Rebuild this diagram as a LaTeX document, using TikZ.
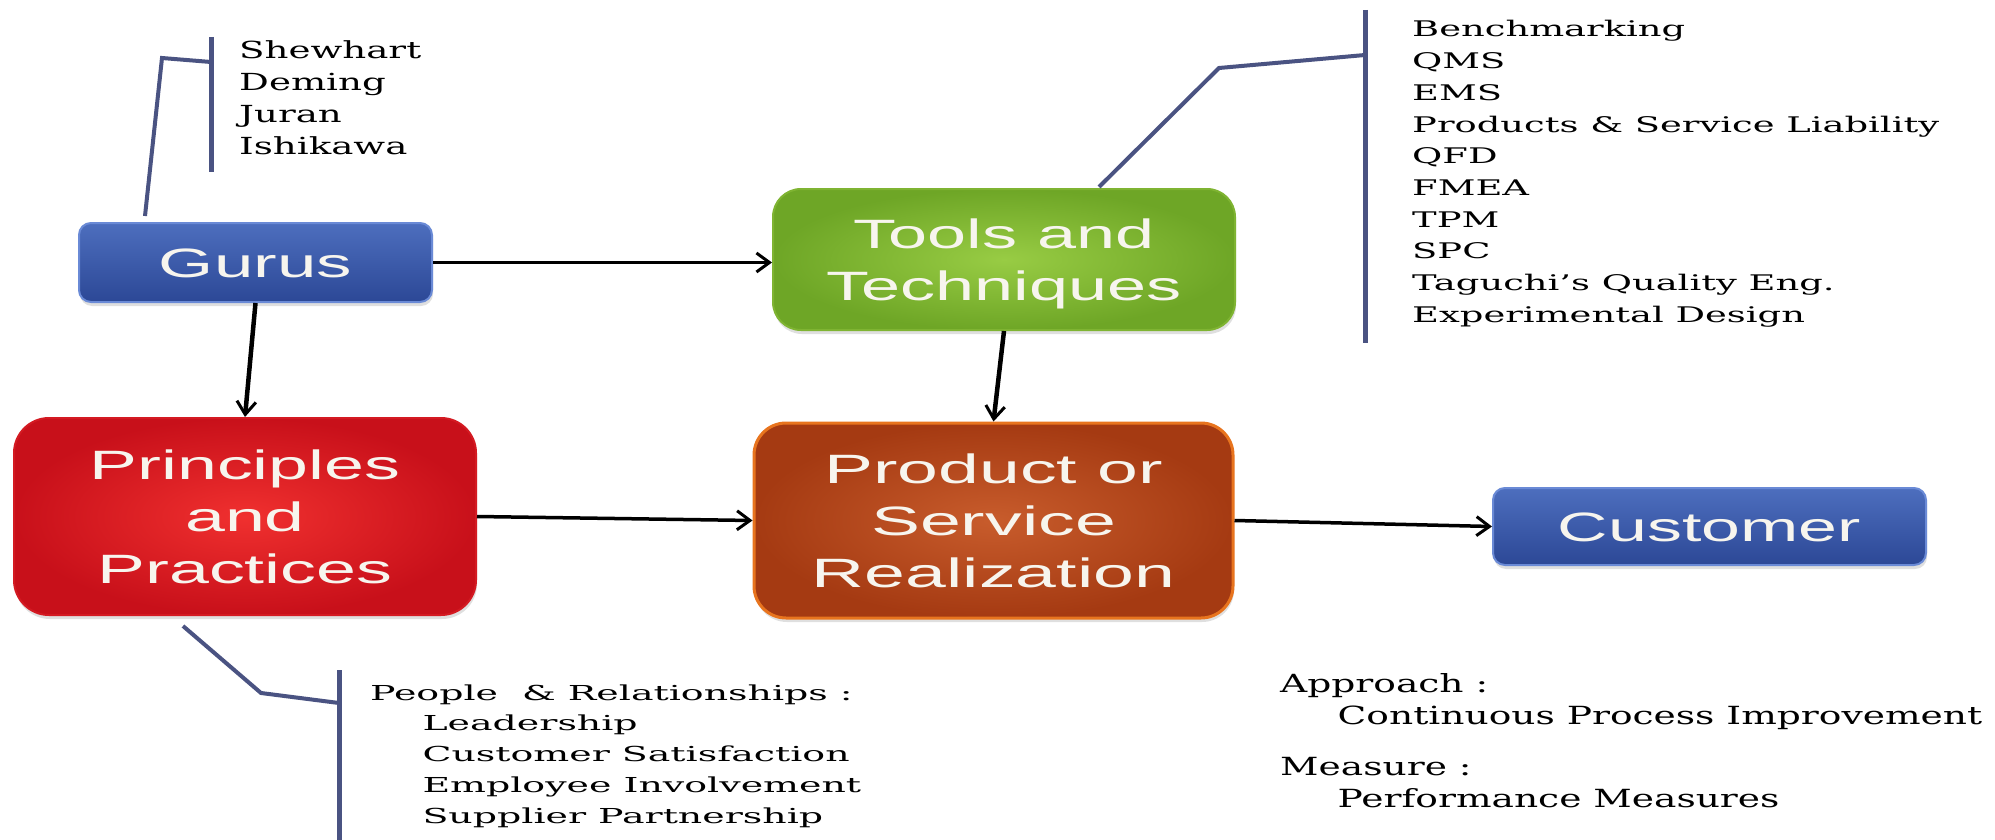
\documentclass[tikz,border=0pt]{standalone}
\usepackage{fontspec}
\setmainfont{DejaVu Serif}
\setsansfont{Liberation Sans}
\usetikzlibrary{arrows.meta,shadows,calc}
\definecolor{bluetop}{HTML}{4D6EBE}
\definecolor{bluebot}{HTML}{2C4896}
\definecolor{bluebd}{HTML}{6A8AD6}
\definecolor{grin}{HTML}{98CC44}
\definecolor{grout}{HTML}{6EA626}
\definecolor{grbd}{HTML}{7FB432}
\definecolor{redin}{HTML}{F0302F}
\definecolor{redout}{HTML}{C8101A}
\definecolor{redbd}{HTML}{D41A22}
\definecolor{orin}{HTML}{C85C2C}
\definecolor{orout}{HTML}{A53A12}
\definecolor{orbd}{HTML}{E8741E}
\definecolor{callc}{HTML}{4A5382}
\definecolor{boxtext}{HTML}{F7F5EE}
\newcommand{\boxlab}[2]{\raisebox{-5pt}[\height][\depth]{\resizebox{#1}{\height}{\begin{tabular}{@{}c@{}}#2\end{tabular}}}}
\newcommand{\calblk}[2]{\resizebox{#1}{\height}{\begin{tabular}[t]{@{}l@{}}#2\end{tabular}}}
\begin{document}
\begin{tikzpicture}[x=1pt,y=-1pt,
  mainbox/.style={inner sep=0pt, text=boxtext, font=\fontsize{41}{52}\selectfont\sffamily,
    drop shadow={shadow xshift=1pt, shadow yshift=-4pt, opacity=0.25}},
  bluebox/.style={mainbox, draw=bluebd, line width=2pt, top color=bluetop, bottom color=bluebot, rounded corners=12pt},
  greenbox/.style={mainbox, draw=grbd, line width=2pt, inner color=grin, outer color=grout, rounded corners=28pt},
  redbox/.style={mainbox, draw=redbd, line width=2pt, inner color=redin, outer color=redout, rounded corners=35pt},
  orangebox/.style={mainbox, draw=orbd, line width=3pt, inner color=orin, outer color=orout, rounded corners=32pt},
  arr/.style={-{Straight Barb[length=13pt,width=19pt,line width=3pt]}, line width=3.5pt, black},
  varr/.style={arr, line width=4.5pt},
  callbar/.style={line width=5pt, callc},
  callline/.style={line width=4pt, callc, line join=miter},
  calltext/.style={inner sep=0pt, anchor=base west, text=black}
]
\useasboundingbox (0,0) rectangle (1995,840);
\fill[white] (0,0) rectangle (1995,840);

% main boxes
\node[bluebox, minimum width=353pt, minimum height=79pt] (gurus) at (255.5,262.5) {\boxlab{193pt}{Gurus}};
\node[greenbox, minimum width=462pt, minimum height=141pt] (tools) at (1004,259.5) {\boxlab{355pt}{Tools and\\Techniques}};
\node[redbox, minimum width=462pt, minimum height=197pt] (princ) at (245,516.5) {\boxlab{311pt}{Principles\\and\\Practices}};
\node[orangebox, minimum width=479pt, minimum height=195pt] (prod) at (993.5,520.5) {\boxlab{363pt}{Product or\\Service\\Realization}};
\node[bluebox, minimum width=433pt, minimum height=77pt] (cust) at (1709.5,526.5) {\boxlab{303pt}{Customer}};

% arrows
\draw[arr] (gurus.east) -- (gurus.east -| tools.west);
\draw[varr] (gurus.south) -- (princ.north);
\draw[varr] (tools.south) -- (prod.north);
\draw[arr] (princ.east) -- (prod.west);
\draw[arr] (prod.east) -- (cust.west);

% callout: gurus
\coordinate (gbt) at (211,37);
\coordinate (gbb) at (211,172);
\coordinate (gk) at (162,58);
\coordinate (gj) at (211,62);
\draw[callbar] (gbt) -- (gbb);
\draw[callline] ($(gurus.north west)+(67,-6)$) -- (gk) -- (gj);
\node[calltext, font=\fontsize{23.5}{31.7}\selectfont] (gtext) at (239,59)
  {\calblk{182pt}{Shewhart\\Deming\\Juran\\Ishikawa}};

% callout: tools
\coordinate (tbt) at (1365,10);
\coordinate (tbb) at (1365,343);
\coordinate (tk) at (1219,68);
\coordinate (tj) at (1365,55);
\draw[callbar] (tbt) -- (tbb);
\draw[callline] ($(tools.north west)+(327,-1)$) -- (tk) -- (tj);
\node[calltext, font=\fontsize{21.5}{31.7}\selectfont] (ttext) at (1412,37)
  {\calblk{527pt}{Benchmarking\\QMS\\EMS\\Products \& Service Liability\\QFD\\FMEA\\TPM\\SPC\\Taguchi’s Quality Eng.\\Experimental Design}};

% callout: principles
\coordinate (pbt) at (339,670);
\coordinate (pbb) at (339,842);
\coordinate (pk) at (261,693);
\coordinate (pj) at (339,703);
\draw[callbar] (pbt) -- (pbb);
\draw[callline] ($(princ.south west)+(170,10)$) -- (pk) -- (pj);
\node[calltext, font=\fontsize{20.6}{30.75}\selectfont] (ptext) at (370,700)
  {\calblk{491pt}{People\ \ \& Relationships :\\\hspace*{1.38em}Leadership\\\hspace*{1.38em}Customer Satisfaction\\\hspace*{1.38em}Employee Involvement\\\hspace*{1.38em}Supplier Partnership}};

% approach / measure
\node[calltext, font=\fontsize{25}{32}\selectfont] (atext) at (1280,692)
  {\calblk{702pt}{Approach :\\\hspace*{1.53em}Continuous Process Improvement\\[19pt]Measure :\\\hspace*{1.53em}Performance Measures}};
\end{tikzpicture}
\end{document}
